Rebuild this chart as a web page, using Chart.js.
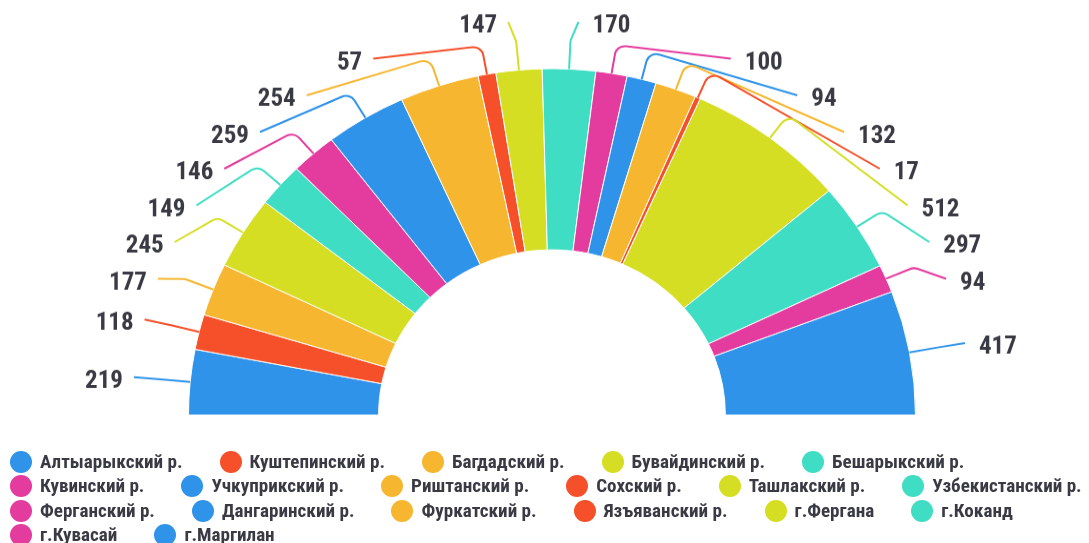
<!DOCTYPE html>
<html><head><meta charset="utf-8">
<script src="https://cdn.jsdelivr.net/npm/chart.js@4"></script>
<style>
html,body{margin:0;padding:0;background:#fff;}
body{width:1089px;height:543px;overflow:hidden;position:relative;}
#wrap{position:absolute;left:0;top:0;width:1089px;height:570px;transform:scaleY(0.953);transform-origin:0 0;}
#legend{position:absolute;left:10px;top:450px;width:1108px;display:flex;flex-wrap:wrap;column-gap:37px;row-gap:0;
  font-weight:bold;font-size:19.1px;font-family:'Liberation Sans Narrow','Roboto Condensed',Roboto,sans-serif;color:#3a3a44;line-height:24.3px;}
.item{display:flex;align-items:center;white-space:nowrap;height:24.3px;}
.dot{width:22px;height:22px;border-radius:50%;margin-right:8px;flex:none;}
</style></head><body>
<div id="wrap"><canvas id="c" width="1089" height="570"></canvas></div>
<div id="legend"></div>
<script>
const categories = ['Алтыарыкский р.','Куштепинский р.','Багдадский р.','Бувайдинский р.','Бешарыкский р.','Кувинский р.','Учкуприкский р.','Риштанский р.','Сохский р.','Ташлакский р.','Узбекистанский р.','Ферганский р.','Дангаринский р.','Фуркатский р.','Язъяванский р.','г.Фергана','г.Коканд','г.Кувасай','г.Маргилан'];
const values = [219,118,177,245,149,146,259,254,57,147,170,100,94,132,17,512,297,94,417];
const BLUE='#2F93E9', RED='#F5502A', ORANGE='#F6B62F', YELLOW='#D5DE22', TEAL='#3EDDC4', MAGENTA='#E43B9E';
const sliceColors = [BLUE,RED,ORANGE,YELLOW,TEAL,MAGENTA,BLUE,ORANGE,RED,YELLOW,TEAL,MAGENTA,BLUE,ORANGE,RED,YELLOW,TEAL,MAGENTA,BLUE];

const LABEL_A = 420, LABEL_B = 413.3, LABEL_R = 418, KNEE = 30, SPACING = 38.5, MIN_Y = 23;
const LABEL_FONT = 'bold 25px "Liberation Sans Narrow", "Roboto Condensed", Roboto, sans-serif';

const labelPlugin = {
  id: 'sliceLabels',
  afterDatasetsDraw(chart) {
    const meta = chart.getDatasetMeta(0);
    const ctx = chart.ctx;
    const ds = chart.data.datasets[0];
    const items = meta.data.map((arc, i) => {
      const p = arc.getProps(['x','y','startAngle','endAngle','outerRadius'], true);
      const a = (p.startAngle + p.endAngle) / 2;
      const cos = Math.cos(a), sin = Math.sin(a);
      return {i, cos, sin, cx: p.x, cy: p.y, R: p.outerRadius, side: cos < 0 ? -1 : 1, y: p.y + LABEL_R * sin};
    });
    [-1, 1].forEach(side => {
      const list = items.filter(o => o.side === side).sort((m, n) => m.y - n.y);
      let prev = -Infinity;
      list.forEach(o => { o.y = Math.max(o.y, MIN_Y, prev + SPACING); prev = o.y; });
    });
    ctx.save();
    ctx.font = LABEL_FONT;
    ctx.textBaseline = 'middle';
    items.forEach(o => {
      const dy = o.cy - o.y;
      const t = Math.max(0, 1 - (dy / LABEL_B) * (dy / LABEL_B));
      const k = {x: o.cx + (o.R + KNEE) * o.cos, y: o.cy + (o.R + KNEE) * o.sin};
      let ax = o.cx + o.side * LABEL_A * Math.sqrt(t);
      if (o.side < 0) ax = Math.min(ax, k.x - 8); else ax = Math.max(ax, k.x + 8);
      const p0 = {x: o.cx + o.R * o.cos, y: o.cy + o.R * o.sin};
      ctx.strokeStyle = ds.backgroundColor[o.i];
      ctx.lineWidth = 2;
      ctx.lineJoin = 'round';
      ctx.beginPath();
      ctx.moveTo(p0.x, p0.y);
      ctx.arcTo(k.x, k.y, ax, o.y, 10);
      ctx.lineTo(ax, o.y);
      ctx.stroke();
      ctx.fillStyle = '#3a3a44';
      ctx.textAlign = o.side < 0 ? 'right' : 'left';
      ctx.fillText(String(ds.data[o.i]), ax + o.side * (o.side < 0 ? 11 : 14), o.y + 5);
    });
    ctx.restore();
  }
};

const htmlLegend = {
  id: 'htmlLegend',
  afterUpdate(chart) {
    const box = document.getElementById('legend');
    box.innerHTML = '';
    const ds = chart.data.datasets[0];
    chart.data.labels.forEach((lab, i) => {
      const it = document.createElement('div');
      it.className = 'item';
      const dot = document.createElement('span');
      dot.className = 'dot';
      dot.style.background = ds.backgroundColor[i];
      const tx = document.createElement('span');
      tx.textContent = lab;
      it.appendChild(dot); it.appendChild(tx);
      box.appendChild(it);
    });
  }
};

new Chart(document.getElementById('c'), {
  type: 'doughnut',
  data: {
    labels: categories,
    datasets: [{
      data: values,
      backgroundColor: sliceColors,
      borderColor: '#ffffff',
      borderWidth: 1
    }]
  },
  options: {
    responsive: false,
    animation: false,
    rotation: -90,
    circumference: 180,
    radius: 363.5,
    cutout: '47.7%',
    layout: {padding: {top: 72, bottom: 134.5, left: 15, right: 0}},
    plugins: {legend: {display: false}, tooltip: {enabled: false}}
  },
  plugins: [labelPlugin, htmlLegend]
});
</script>
</body></html>
